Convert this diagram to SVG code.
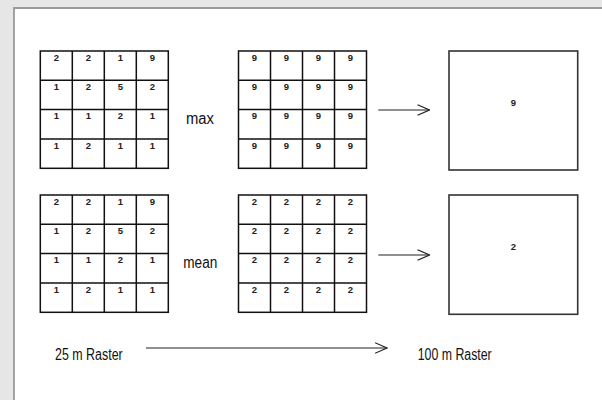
<svg xmlns="http://www.w3.org/2000/svg" width="602" height="400" viewBox="0 0 602 400">
<style>
.grid{fill:#fff;stroke:#111;stroke-width:1.5}
.gl{stroke:#111;stroke-width:1.5}
.box{fill:#fff;stroke:#333;stroke-width:1.6}
.d{font-family:"Liberation Sans",Arial,sans-serif;font-size:9.5px;font-weight:bold;fill:#222;text-anchor:middle}
.lbl{font-family:"Liberation Sans",Arial,sans-serif;font-size:16px;fill:#111}
.conn{stroke:#222;stroke-width:1.2;fill:none}
</style>
<defs>
<marker id="open" viewBox="0 0 13 12" refX="12.5" refY="6" markerWidth="13" markerHeight="12" markerUnits="userSpaceOnUse" orient="auto">
<path d="M0.5,0.7 L12.5,6 L0.5,11.3" fill="none" stroke="#222" stroke-width="1.2"/>
</marker>
<g id="gridlines">
<rect class="grid" x="0" y="0" width="128" height="117.3"/>
<path class="gl" d="M32,0V117.3M64,0V117.3M96,0V117.3M0,29.3H128M0,58.6H128M0,88H128"/>
</g>
</defs>
<rect width="602" height="400" fill="#e6e6e6"/>
<rect x="14" y="8" width="590" height="394" fill="#fff"/>
<path d="M14,401V8H603" fill="none" stroke="#999" stroke-width="1.8"/>

<g id="raster25-max">
<use href="#gridlines" x="40.3" y="51"/>
<g class="d">
<text x="56.3" y="60.5">2</text><text x="88.3" y="60.5">2</text><text x="120.3" y="60.5">1</text><text x="152.3" y="60.5">9</text>
<text x="56.3" y="89.8">1</text><text x="88.3" y="89.8">2</text><text x="120.3" y="89.8">5</text><text x="152.3" y="89.8">2</text>
<text x="56.3" y="119.1">1</text><text x="88.3" y="119.1">1</text><text x="120.3" y="119.1">2</text><text x="152.3" y="119.1">1</text>
<text x="56.3" y="148.5">1</text><text x="88.3" y="148.5">2</text><text x="120.3" y="148.5">1</text><text x="152.3" y="148.5">1</text>
</g>
</g>

<g id="label-max"><text class="lbl" x="186" y="123.5" textLength="28" lengthAdjust="spacingAndGlyphs">max</text></g>

<g id="raster-max-result">
<use href="#gridlines" x="238.5" y="51"/>
<g class="d">
<text x="254.5" y="60.5">9</text><text x="286.5" y="60.5">9</text><text x="318.5" y="60.5">9</text><text x="350.5" y="60.5">9</text>
<text x="254.5" y="89.8">9</text><text x="286.5" y="89.8">9</text><text x="318.5" y="89.8">9</text><text x="350.5" y="89.8">9</text>
<text x="254.5" y="119.1">9</text><text x="286.5" y="119.1">9</text><text x="318.5" y="119.1">9</text><text x="350.5" y="119.1">9</text>
<text x="254.5" y="148.5">9</text><text x="286.5" y="148.5">9</text><text x="318.5" y="148.5">9</text><text x="350.5" y="148.5">9</text>
</g>
</g>

<g id="raster100-max">
<rect class="box" x="449" y="51" width="128.7" height="119"/>
<text class="d" x="513.3" y="105.5">9</text>
</g>

<g id="raster25-mean">
<use href="#gridlines" x="40.3" y="195"/>
<g class="d">
<text x="56.3" y="204.5">2</text><text x="88.3" y="204.5">2</text><text x="120.3" y="204.5">1</text><text x="152.3" y="204.5">9</text>
<text x="56.3" y="233.8">1</text><text x="88.3" y="233.8">2</text><text x="120.3" y="233.8">5</text><text x="152.3" y="233.8">2</text>
<text x="56.3" y="263.1">1</text><text x="88.3" y="263.1">1</text><text x="120.3" y="263.1">2</text><text x="152.3" y="263.1">1</text>
<text x="56.3" y="292.5">1</text><text x="88.3" y="292.5">2</text><text x="120.3" y="292.5">1</text><text x="152.3" y="292.5">1</text>
</g>
</g>

<g id="label-mean"><text class="lbl" x="183.3" y="268" textLength="34" lengthAdjust="spacingAndGlyphs">mean</text></g>

<g id="raster-mean-result">
<use href="#gridlines" x="238.5" y="195"/>
<g class="d">
<text x="254.5" y="204.5">2</text><text x="286.5" y="204.5">2</text><text x="318.5" y="204.5">2</text><text x="350.5" y="204.5">2</text>
<text x="254.5" y="233.8">2</text><text x="286.5" y="233.8">2</text><text x="318.5" y="233.8">2</text><text x="350.5" y="233.8">2</text>
<text x="254.5" y="263.1">2</text><text x="286.5" y="263.1">2</text><text x="318.5" y="263.1">2</text><text x="350.5" y="263.1">2</text>
<text x="254.5" y="292.5">2</text><text x="286.5" y="292.5">2</text><text x="318.5" y="292.5">2</text><text x="350.5" y="292.5">2</text>
</g>
</g>

<g id="raster100-mean">
<rect class="box" x="449" y="195" width="128.7" height="119.3"/>
<text class="d" x="513.3" y="250">2</text>
</g>

<g id="label-25m"><text class="lbl" x="55" y="360" textLength="67.7" lengthAdjust="spacingAndGlyphs">25 m Raster</text></g>
<g id="label-100m"><text class="lbl" x="417.7" y="360" textLength="74" lengthAdjust="spacingAndGlyphs">100 m Raster</text></g>

<g id="connectors">
<line class="conn" x1="378.3" y1="110" x2="429.5" y2="110" marker-end="url(#open)"/>
<line class="conn" x1="378.3" y1="255" x2="429.5" y2="255" marker-end="url(#open)"/>
<line class="conn" x1="146" y1="348" x2="387" y2="348" marker-end="url(#open)"/>
</g>
</svg>
